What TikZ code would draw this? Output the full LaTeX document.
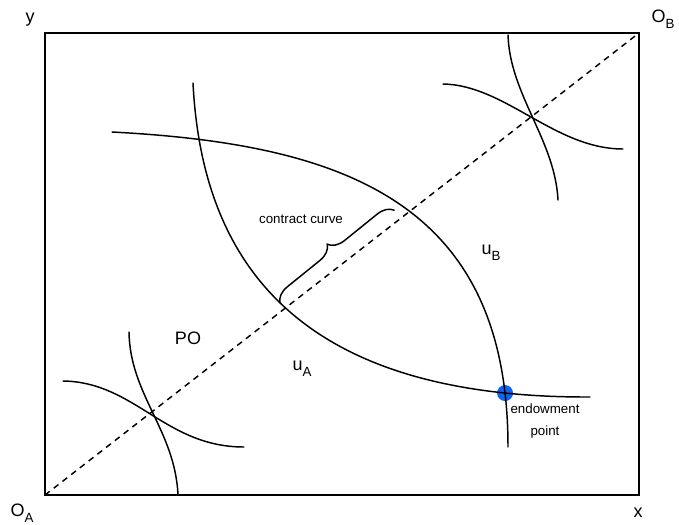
\documentclass[tikz,border=0pt]{standalone}
\usepackage{fontspec}
\setmainfont{Liberation Sans}
\usetikzlibrary{decorations.pathreplacing,intersections}
\definecolor{dotblue}{RGB}{16,100,240}
\begin{document}
\begin{tikzpicture}[x=0.75pt,y=-0.75pt,
  curve/.style={line width=1.1pt, line cap=round},
  lbl/.style={font=\fontsize{13.5}{16}\selectfont, inner sep=0pt},
  small/.style={font=\fontsize{10}{12}\selectfont, inner sep=0pt}]
\useasboundingbox (0,0) rectangle (679,525);
\coordinate (OA) at (45,495);
\coordinate (OBc) at (639,33);
\draw[line width=1.5pt] (45,33) rectangle (639,495);
\draw[line width=1.1pt, dash pattern=on 4.5pt off 3.8pt] (OA) -- (OBc);
% big curves (paths named, drawn after the dot)
\path[name path=cb] (112,132) .. controls (340,144) and (508,200) .. (508,447);
\path[name path=ca] (193,83) .. controls (203,283) and (320,398) .. (590,397);
\path[name intersections={of=cb and ca, by={cross1,endow}}];
\fill[dotblue] (endow) circle (6pt);
\draw[curve] (112,132) .. controls (340,144) and (508,200) .. (508,447);
\draw[curve] (193,83) .. controls (203,283) and (320,398) .. (590,397);
% bottom-left tangency
\draw[curve] (63,381) .. controls (135,382) and (165,447) .. (244,447);
\draw[curve] (129,332) .. controls (130,395) and (175,430) .. (178,495);
% top-right tangency
\draw[curve] (443,84) .. controls (505,85) and (555,149) .. (623,149);
\draw[curve] (508,35) .. controls (510,95) and (555,140) .. (558,200);
% brace
\draw[line width=1.1pt, decorate, decoration={brace, amplitude=12pt}] (280,303) -- (395,210);
% labels
\node[lbl] (ly) at (30,20) {y};
\node[lbl] (lx) at (638,513) {x};
\node[lbl] (loa) at (22,513) {O\raisebox{-0.35em}{\fontsize{10}{12}\selectfont A}};
\node[lbl] (lob) at (663,19) {O\raisebox{-0.35em}{\fontsize{10}{12}\selectfont B}};
\node[lbl] (lpo) at (188,338) {PO};
\node[lbl] (lub) at (491,253) {u\raisebox{-0.35em}{\fontsize{10}{12}\selectfont B}};
\node[lbl] (lua) at (302,369) {u\raisebox{-0.35em}{\fontsize{10}{12}\selectfont A}};
\node[small] (lcc) at (301,219) {contract curve};
\node[small] (le1) at (545,409) {endowment};
\node[small] (le2) at (545,432) {point};
\end{tikzpicture}
\end{document}
